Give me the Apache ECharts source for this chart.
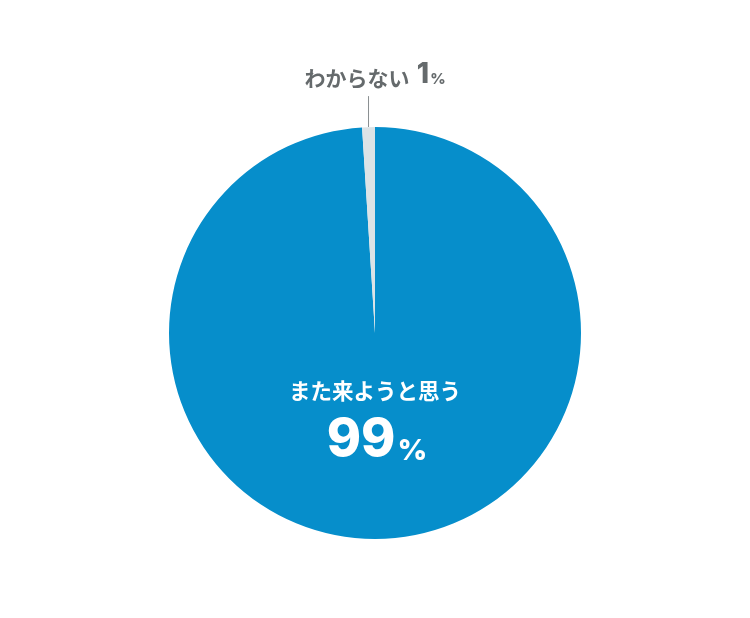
<!DOCTYPE html>
<html>
<head>
<meta charset="utf-8">
<script src="https://cdn.jsdelivr.net/npm/echarts@6/dist/echarts.min.js"></script>
<style>
  html, body { margin: 0; padding: 0; background: #fff; }
  #answerPie { width: 750px; height: 618px; }
</style>
</head>
<body>
<div id="answerPie"></div>
<script>
// 回答の割合
const answerNames = ['また来ようと思う', 'わからない'];
const answerValues = [99, 1];
const answerColors = ['#068ecb', '#dce3e6'];

const jpFont = '"Noto Sans CJK JP", sans-serif';
const numFont = 'Inter, "Noto Sans", sans-serif';

const pieData = answerNames.map((name, i) => {
  const item = {
    name,
    value: answerValues[i],
    itemStyle: { color: answerColors[i] },
  };
  if (i === 0) {
    // 大きい方は円の中に
    item.label = {
      position: 'center',
      offset: [0, 80],
      formatter: '{name|{b}}\n{val|{c}}{pct|%}',
      rich: {
        name: { fontFamily: jpFont, fontSize: 21.5, fontWeight: 'bold', color: '#fff', lineHeight: 42, align: 'center' },
        val: { fontFamily: numFont, fontSize: 52, fontWeight: 800, color: '#fff', lineHeight: 64, verticalAlign: 'bottom' },
        pct: { fontFamily: numFont, fontSize: 29, fontWeight: 800, color: '#fff', lineHeight: 64, verticalAlign: 'bottom', padding: [0, 0, 0, 2] },
      },
    };
    item.labelLine = { show: false };
  }
  return item;
});

const myEcharts = echarts.init(document.getElementById('answerPie'));
myEcharts.setOption({
  animation: false,
  series: [
    {
      name: '回答',
      type: 'pie',
      center: [375, 333],
      radius: [0, 206],
      startAngle: 90,
      clockwise: true,
      avoidLabelOverlap: false,
      label: {
        position: 'outside',
        formatter: '{name|{b}} {val|{c}}{pct|%}',
        rich: {
          name: { fontFamily: jpFont, fontSize: 21, fontWeight: 'bold', color: '#656a6c', verticalAlign: 'bottom', lineHeight: 30 },
          val: { fontFamily: numFont, fontSize: 28, fontWeight: 800, color: '#656a6c', verticalAlign: 'bottom', lineHeight: 30, padding: [0, 0, 0, 4] },
          pct: { fontFamily: numFont, fontSize: 15, fontWeight: 800, color: '#656a6c', verticalAlign: 'bottom', lineHeight: 30, padding: [0, 0, 2, 1] },
        },
      },
      labelLine: {
        show: true,
        length: 31,
        length2: 0,
        lineStyle: { color: '#8a8f91', width: 1 },
      },
      labelLayout(params) {
        if (params.dataIndex !== 1) return {};
        // 引き出し線は真上にまっすぐ
        const p0 = params.labelLinePoints[0];
        const top = [p0[0], p0[1] - 31];
        return {
          x: 375,
          y: 74,
          align: 'center',
          verticalAlign: 'middle',
          labelLinePoints: [p0, top, top],
        };
      },
      data: pieData,
    },
  ],
});
</script>
</body>
</html>
